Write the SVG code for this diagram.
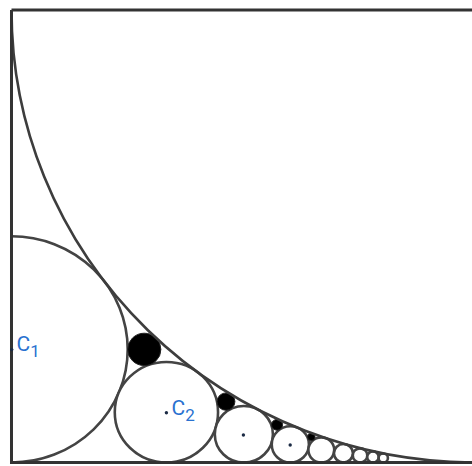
<svg xmlns="http://www.w3.org/2000/svg" width="472" height="466" viewBox="0 0 472 466">
<defs>
<clipPath id="inside"><rect x="11.5" y="0" width="470" height="462.5"/></clipPath>
</defs>
<style>
.ln{fill:none;stroke:#3d3d3d;stroke-width:2.6;vector-effect:non-scaling-stroke}
.fr{fill:none;stroke:#333;stroke-width:3;vector-effect:non-scaling-stroke}
.w{fill:#fff;stroke:#444;stroke-width:2.6;vector-effect:non-scaling-stroke}
.b{fill:#000;stroke:#222;stroke-width:1;vector-effect:non-scaling-stroke}
.d{fill:#1b2a44}
.lb{font-family:Roboto,"Liberation Sans",sans-serif;fill:#2a72d0}
</style>
<rect width="472" height="466" fill="#fff"/>
<g transform="matrix(1.027 0 0 1 -0.3105 0)">
<g clip-path="url(#inside)">
<g id="c1"><circle class="w" cx="11.5" cy="349.375" r="113.125"/></g>
<g id="c2"><circle class="w" cx="162.333" cy="412.222" r="50.278"/></g>
<g id="c3"><circle class="w" cx="237.75" cy="434.219" r="28.281"/></g>
<g id="c4"><circle class="w" cx="283" cy="444.4" r="18.1"/></g>
<g id="c5"><circle class="w" cx="313.167" cy="449.931" r="12.569"/></g>
<g id="c6"><circle class="w" cx="334.714" cy="453.265" r="9.235"/></g>
<g id="c7"><circle class="w" cx="350.875" cy="455.43" r="7.07"/></g>
<g id="c8"><circle class="w" cx="363.444" cy="456.914" r="5.586"/></g>
<g id="c9"><circle class="w" cx="373.5" cy="457.975" r="4.525"/></g>
<g id="b1"><circle class="b" cx="140.786" cy="349.375" r="16.161"/></g>
<g id="b2"><circle class="b" cx="220.346" cy="401.587" r="8.702"/></g>
<g id="b3"><circle class="b" cx="270.071" cy="424.792" r="5.387"/></g>
<g id="b4"><circle class="b" cx="303.435" cy="436.956" r="3.649"/></g>
</g>
<g id="frame">
<path class="ln" d="M11.5 10A452.5 452.5 0 0 0 464 462.5"/>
<path class="fr" d="M11.5 10H470M11.5 10V462.5H470"/>
</g>
</g>
<g id="dots">
<circle class="d" cx="11.7" cy="349.6" r="1.7"/>
<circle class="d" cx="166.4" cy="412.8" r="1.7"/>
<circle class="d" cx="243.4" cy="435" r="1.7"/>
<circle class="d" cx="290.2" cy="445" r="1.7"/>
</g>
<g id="labels">
<text class="lb" x="16.5" y="351" font-size="21">C<tspan font-size="17" dy="6">1</tspan></text>
<text class="lb" x="171.5" y="414.5" font-size="21">C<tspan font-size="17" dy="6">2</tspan></text>
</g>
</svg>
